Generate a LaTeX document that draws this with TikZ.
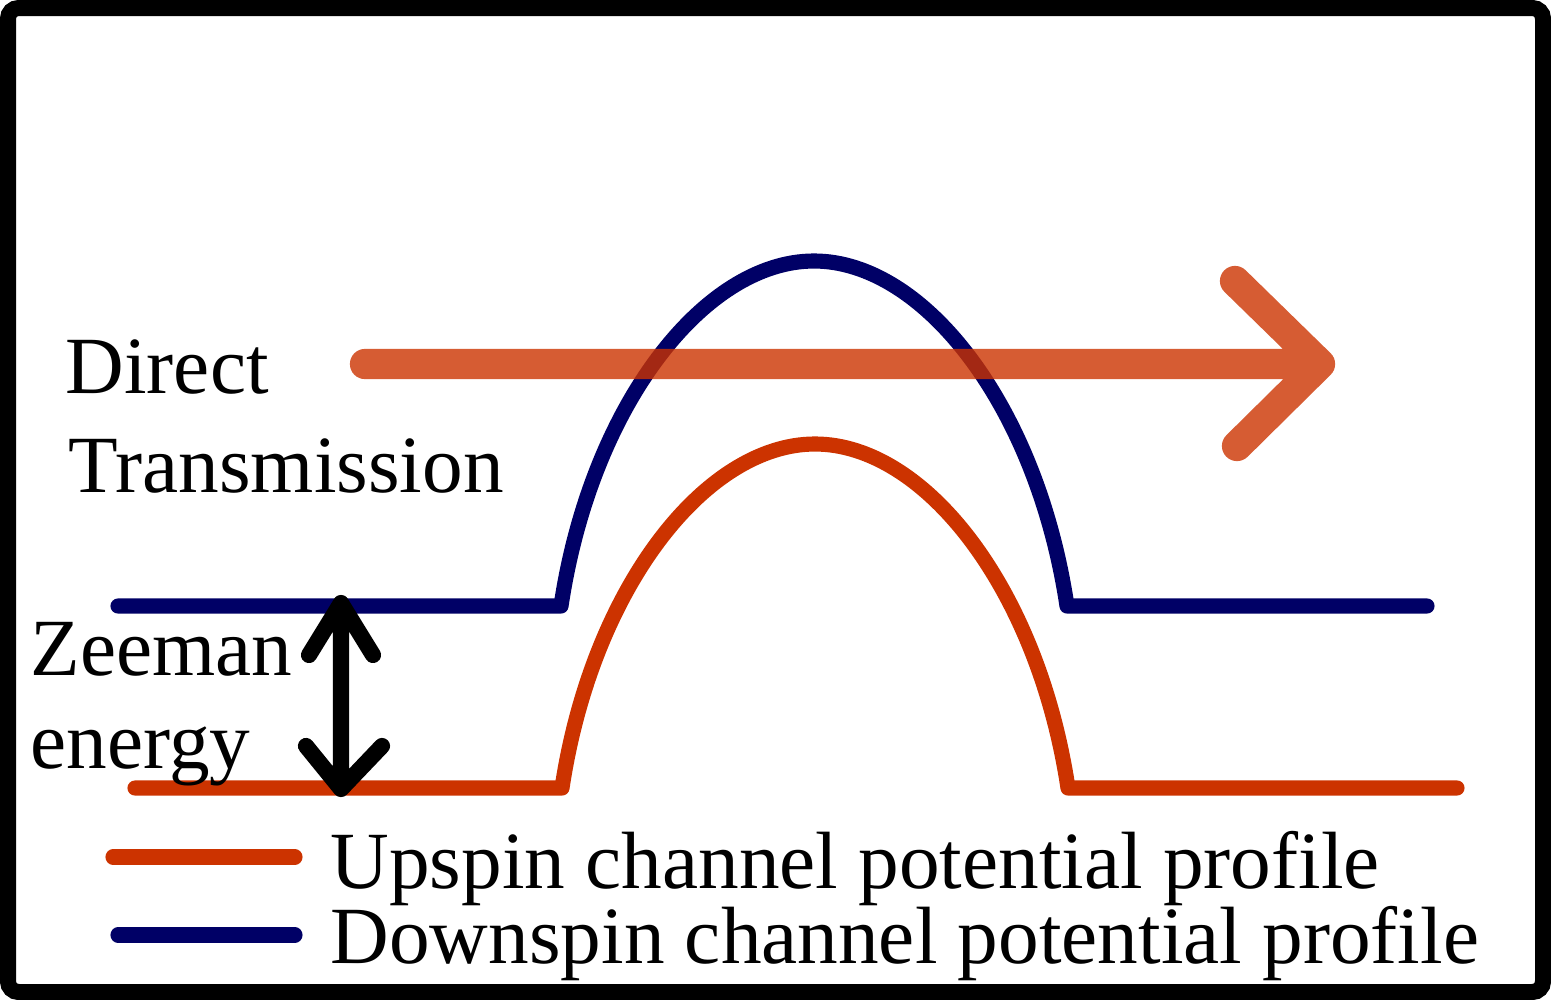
\documentclass[tikz,border=0pt]{standalone}
\usepackage{fontspec}
\setmainfont{Liberation Serif}
\definecolor{upc}{HTML}{CC3300}
\definecolor{downc}{HTML}{000066}
\tikzset{
  px/.style={x=0.01cm,y=-0.01cm},
  profile/.style={line width=4.3pt,line cap=round,line join=round},
  lbl/.style={anchor=base west,inner sep=0pt,font=\fontsize{23.1pt}{27pt}\selectfont},
  bigarrow/.style={draw=upc,draw opacity=0.8,line width=8.6pt,line cap=round,line join=round},
  zarrow/.style={draw=black,line width=4.6pt,line cap=round,line join=round},
}
\begin{document}
\begin{tikzpicture}[px]
\useasboundingbox (0,0) rectangle (1551,1000);
\draw[line width=4.55pt,rounded corners=3pt] (8,8) rectangle (1543,992);
% downspin profile
\draw[profile,downc] (118,606) -- (561,606) .. controls (591,406) and (704,261) .. (814,261)
  .. controls (924,261) and (1037,406) .. (1067,606) -- (1427,606);
% upspin profile
\draw[profile,upc] (135,788) -- (562,788) .. controls (592,589) and (705,444) .. (815,444)
  .. controls (925,444) and (1038,589) .. (1068,788) -- (1457,788);
% direct transmission arrow
\coordinate (ts) at (365,364);
\coordinate (tt) at (1320,364);
\coordinate (tu) at (1235,281);
\coordinate (td) at (1237,446);
\draw[bigarrow] (ts) -- (tt) (tu) -- (tt) -- (td);
% Zeeman double arrow
\coordinate (zt) at (341,603);
\coordinate (zb) at (341,789);
\coordinate (ztl) at (309,655);
\coordinate (ztr) at (373,655);
\coordinate (zbl) at (306,746);
\coordinate (zbr) at (382,746);
\draw[zarrow] (zt) -- (zb) (ztl) -- (zt) -- (ztr) (zbl) -- (zb) -- (zbr);
% labels
\node[lbl] (direct) at (65,393) {Direct};
\node[lbl] (trans) at (68,492) {Transmission};
\node[lbl] (zeeman) at (30,675) {Zeeman};
\node[lbl] (energy) at (30,768) {energy};
% legend
\coordinate (l1a) at (113,857);
\coordinate (l1b) at (295,857);
\coordinate (l2a) at (118,935);
\coordinate (l2b) at (295,935);
\draw[profile,upc] (l1a) -- (l1b);
\draw[profile,downc] (l2a) -- (l2b);
\node[lbl] (up) at (330,888) {Upspin channel potential profile};
\node[lbl] (down) at (330,963) {Downspin channel potential profile};
\end{tikzpicture}
\end{document}
